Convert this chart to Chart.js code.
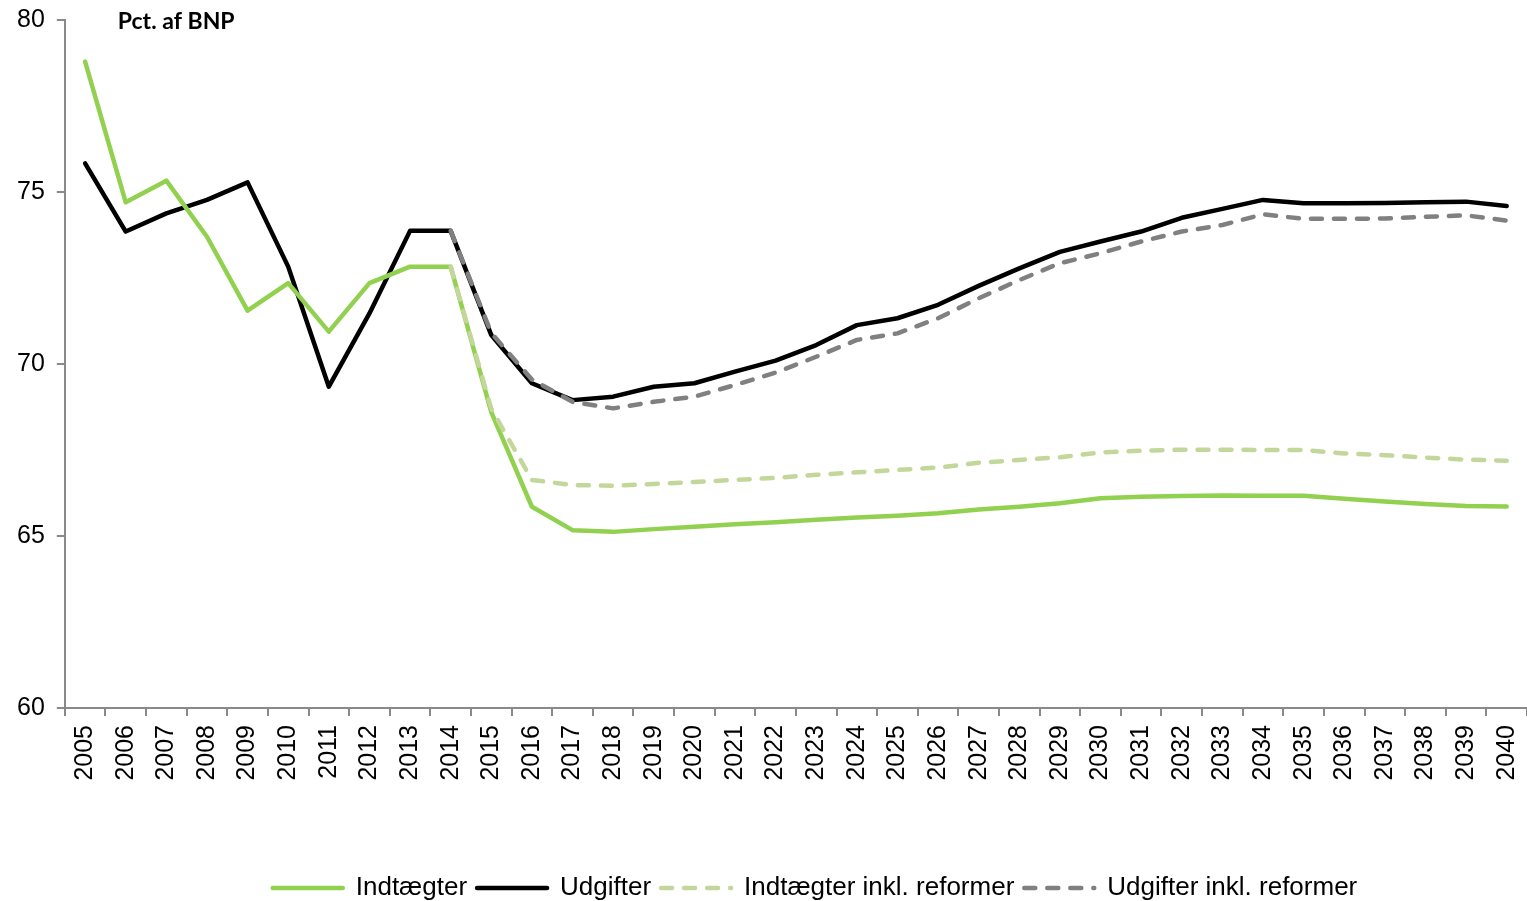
<!DOCTYPE html>
<html>
<head>
<meta charset="utf-8">
<title>Indtægter og udgifter</title>
<script src="https://cdn.jsdelivr.net/npm/chart.js@4.4.1/dist/chart.umd.min.js"></script>
<style>
    html, body { margin: 0; padding: 0; background: #fff; }
    #wrap { width: 1527px; height: 901px; position: relative; }
</style>
</head>
<body>
<div id="wrap"><canvas id="budgetChart"></canvas></div>
<script>
// data, pct. af BNP
const years = ['2005', '2006', '2007', '2008', '2009', '2010', '2011', '2012', '2013', '2014',
    '2015', '2016', '2017', '2018', '2019', '2020', '2021', '2022', '2023', '2024',
    '2025', '2026', '2027', '2028', '2029', '2030', '2031', '2032', '2033', '2034',
    '2035', '2036', '2037', '2038', '2039', '2040'];

const indtaegter = [78.79, 74.70, 75.33, 73.70, 71.55, 72.35, 70.94, 72.35, 72.83, 72.83,
    68.60, 65.85, 65.17, 65.12, 65.20, 65.27, 65.34, 65.40, 65.47, 65.54,
    65.59, 65.66, 65.77, 65.85, 65.95, 66.10, 66.14, 66.16, 66.18, 66.17,
    66.17, 66.08, 66.00, 65.93, 65.87, 65.86];

const udgifter = [75.83, 73.85, 74.38, 74.77, 75.28, 72.83, 69.34, 71.47, 73.87, 73.87,
    70.84, 69.44, 68.95, 69.05, 69.34, 69.44, 69.78, 70.10, 70.55, 71.13,
    71.33, 71.72, 72.27, 72.78, 73.26, 73.56, 73.85, 74.25, 74.51, 74.77,
    74.67, 74.67, 74.68, 74.70, 74.72, 74.59];

const indtaegterReform = [null, null, null, null, null, null, null, null, null, 72.83,
    68.70, 66.63, 66.48, 66.46, 66.51, 66.57, 66.63, 66.69, 66.78, 66.85,
    66.92, 66.99, 67.13, 67.21, 67.29, 67.43, 67.48, 67.51, 67.51, 67.50,
    67.50, 67.40, 67.35, 67.28, 67.22, 67.19];

const udgifterReform = [null, null, null, null, null, null, null, null, null, 73.87,
    70.90, 69.55, 68.90, 68.71, 68.90, 69.05, 69.39, 69.75, 70.21, 70.70,
    70.89, 71.33, 71.91, 72.44, 72.93, 73.22, 73.56, 73.85, 74.04, 74.35,
    74.22, 74.22, 74.23, 74.28, 74.32, 74.17];

const yTicks = [60, 65, 70, 75, 80];

document.addEventListener('DOMContentLoaded', function() {
    const ctx = document.getElementById('budgetChart').getContext('2d');
    const axisGrey = '#898989';
    const lineWidth = 4.5;

    // unit label in the top left corner of the plot
    const unitLabel = {
        id: 'unitLabel',
        afterDraw: function(chart) {
            const c = chart.ctx;
            c.save();
            c.font = 'bold 23px Lato, "Open Sans", sans-serif';
            c.fillStyle = '#000';
            c.textBaseline = 'middle';
            c.fillText('Pct. af BNP', chart.chartArea.left + 53, chart.chartArea.top + 2);
            c.restore();
        }
    };

    // legend sits a bit right of centre in the original
    const legendShift = {
        id: 'legendShift',
        afterLayout: function(chart) {
            chart.legend.left += 49;
            chart.legend.right += 49;
        }
    };

    const data = {
        labels: years,
        datasets: [
            {
                label: 'Indtægter',
                data: indtaegter,
                borderColor: '#92D050',
                backgroundColor: '#92D050',
                borderWidth: lineWidth,
                order: 2
            },
            {
                label: 'Udgifter',
                data: udgifter,
                borderColor: '#000000',
                backgroundColor: '#000000',
                borderWidth: lineWidth,
                order: 2
            },
            {
                label: 'Indtægter inkl. reformer',
                data: indtaegterReform,
                borderColor: '#C4D79B',
                backgroundColor: '#C4D79B',
                borderWidth: lineWidth,
                borderDash: [11, 12],
                order: 1
            },
            {
                label: 'Udgifter inkl. reformer',
                data: udgifterReform,
                borderColor: '#808080',
                backgroundColor: '#808080',
                borderWidth: lineWidth,
                borderDash: [11, 12],
                order: 1
            }
        ]
    };

    const config = {
        type: 'line',
        data: data,
        plugins: [unitLabel, legendShift],
        options: {
            responsive: true,
            maintainAspectRatio: false,
            animation: false,
            layout: {
                padding: { top: 20, left: 5, right: 0, bottom: -10 }
            },
            scales: {
                y: {
                    min: 60,
                    max: 80,
                    afterBuildTicks: function(scale) {
                        scale.ticks = yTicks.map(v => ({ value: v }));
                    },
                    afterFit: function(scale) {
                        scale.paddingTop = 0;
                        scale.paddingBottom = 0;
                    },
                    ticks: {
                        color: '#000',
                        padding: 12,
                        font: { family: '"Liberation Sans", Arial, sans-serif', size: 25 }
                    },
                    border: { color: axisGrey, width: 2 },
                    grid: {
                        drawOnChartArea: false,
                        color: axisGrey,
                        lineWidth: 2,
                        tickLength: 8
                    }
                },
                x: {
                    offset: true,
                    afterFit: function(scale) {
                        scale.height = 157;
                        scale.paddingLeft = 0;
                        scale.paddingRight = 0;
                    },
                    ticks: {
                        color: '#000',
                        minRotation: 90,
                        maxRotation: 90,
                        autoSkip: false,
                        padding: 9,
                        font: { family: '"Liberation Sans", Arial, sans-serif', size: 25 }
                    },
                    border: { color: axisGrey, width: 2 },
                    grid: {
                        offset: true,
                        drawOnChartArea: false,
                        color: axisGrey,
                        lineWidth: 2,
                        tickLength: 8
                    }
                }
            },
            plugins: {
                legend: {
                    position: 'bottom',
                    labels: {
                        usePointStyle: true,
                        pointStyle: 'line',
                        pointStyleWidth: 70,
                        boxHeight: 26,
                        padding: 10,
                        color: '#000',
                        font: { family: '"Liberation Sans", Arial, sans-serif', size: 26 },
                        // keep dataset order and use the line look of each series
                        generateLabels: function(chart) {
                            const items = Chart.defaults.plugins.legend.labels.generateLabels(chart);
                            items.forEach(function(item) {
                                const ds = chart.data.datasets[item.datasetIndex];
                                item.strokeStyle = ds.borderColor;
                                item.lineWidth = lineWidth;
                                item.lineDash = ds.borderDash || [];
                                item.lineCap = 'round';
                            });
                            return items.sort((a, b) => a.datasetIndex - b.datasetIndex);
                        }
                    }
                },
                tooltip: { enabled: false }
            },
            elements: {
                point: {
                    radius: 0
                },
                line: {
                    tension: 0,
                    borderCapStyle: 'round',
                    borderJoinStyle: 'round'
                }
            }
        }
    };
    new Chart(ctx, config);
});
</script>
</body>
</html>
